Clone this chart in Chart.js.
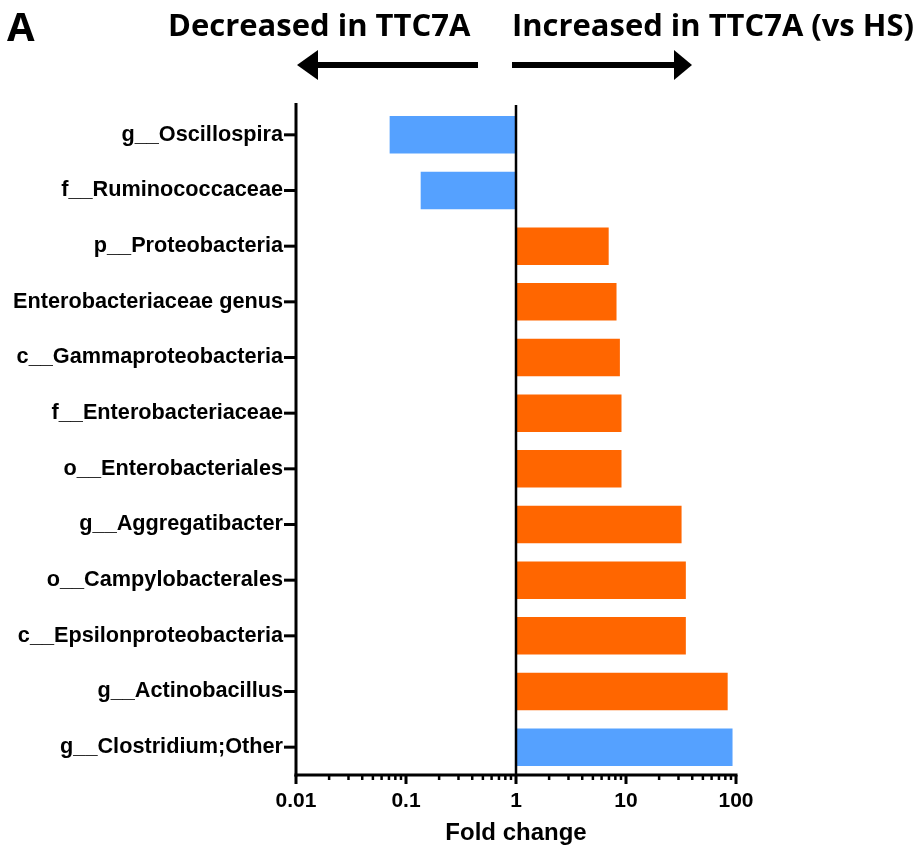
<!DOCTYPE html>
<html>
<head>
<meta charset="utf-8">
<script src="https://cdn.jsdelivr.net/npm/chart.js@4"></script>
<style>
  html, body { margin: 0; padding: 0; background: #fff; }
  #wrap { width: 921px; height: 851px; }
</style>
</head>
<body>
<div id="wrap"><canvas id="chart" width="921" height="851"></canvas></div>
<script>
// taxa, top to bottom
const taxa = [
  'g__Oscillospira',
  'f__Ruminococcaceae',
  'p__Proteobacteria',
  'Enterobacteriaceae genus',
  'c__Gammaproteobacteria',
  'f__Enterobacteriaceae',
  'o__Enterobacteriales',
  'g__Aggregatibacter',
  'o__Campylobacterales',
  'c__Epsilonproteobacteria',
  'g__Actinobacillus',
  'g__Clostridium;Other'
];
// fold change (TTC7A vs HS), bars start at 1
const foldChange = [0.071, 0.136, 6.96, 8.2, 8.8, 9.1, 9.1, 32, 35, 35, 84, 93];
const barColour = ['#55a1ff', '#55a1ff', '#ff6600', '#ff6600', '#ff6600', '#ff6600',
                   '#ff6600', '#ff6600', '#ff6600', '#ff6600', '#ff6600', '#55a1ff'];
const xTickLabels = ['0.01', '0.1', '1', '10', '100'];

const ctx = document.getElementById('chart').getContext('2d');

// axes, tick marks, headings and arrows drawn by hand
const extras = {
  id: 'extras',
  afterDraw(chart) {
    const c = chart.ctx;
    const x = chart.scales.x, y = chart.scales.y;
    const area = chart.chartArea;
    c.save();
    c.strokeStyle = '#000';
    c.fillStyle = '#000';
    c.lineCap = 'butt';

    // y axis line
    c.lineWidth = 3;
    c.beginPath();
    c.moveTo(area.left, 103);
    c.lineTo(area.left, area.bottom + 1.5);
    c.stroke();
    // x axis line
    c.beginPath();
    c.moveTo(area.left - 1.5, area.bottom);
    c.lineTo(x.getPixelForValue(100) + 1.5, area.bottom);
    c.stroke();
    // line at fold change 1
    c.lineWidth = 2.5;
    const x1 = x.getPixelForValue(1);
    c.beginPath();
    c.moveTo(x1, 105);
    c.lineTo(x1, area.bottom);
    c.stroke();

    // y tick marks
    c.lineWidth = 3;
    taxa.forEach((t, i) => {
      const py = y.getPixelForValue(i);
      c.beginPath();
      c.moveTo(area.left - 12, py);
      c.lineTo(area.left, py);
      c.stroke();
    });

    // x tick marks, major at decades, minor between
    for (let d = -2; d <= 2; d++) {
      for (let m = 1; m <= 9; m++) {
        const v = m * Math.pow(10, d);
        if (v > 100) break;
        const px = x.getPixelForValue(v);
        c.lineWidth = m === 1 ? 3 : 2.5;
        c.beginPath();
        c.moveTo(px, area.bottom);
        c.lineTo(px, area.bottom + (m === 1 ? 9 : 5));
        c.stroke();
      }
    }

    // headings
    c.textBaseline = 'alphabetic';
    c.textAlign = 'left';
    c.font = 'bold 40px "Open Sans"';
    c.fillText('A', 7, 41, 31);
    c.font = 'bold 31px "Open Sans"';
    c.fillText('Decreased in TTC7A', 168, 36, 304);
    c.fillText('Increased in TTC7A (vs HS)', 512, 36, 402);

    // arrows
    c.lineWidth = 6;
    c.beginPath();
    c.moveTo(478, 65);
    c.lineTo(312, 65);
    c.stroke();
    c.beginPath();
    c.moveTo(297, 65);
    c.lineTo(318, 50);
    c.lineTo(318, 80);
    c.closePath();
    c.fill();
    c.beginPath();
    c.moveTo(512, 65);
    c.lineTo(680, 65);
    c.stroke();
    c.beginPath();
    c.moveTo(692, 65);
    c.lineTo(674, 50);
    c.lineTo(674, 80);
    c.closePath();
    c.fill();
    c.restore();
  }
};

new Chart(ctx, {
  type: 'bar',
  data: {
    labels: taxa,
    datasets: [{
      data: foldChange.map(v => [1, v]),
      backgroundColor: barColour,
      borderWidth: 0,
      barPercentage: 0.675,
      categoryPercentage: 1
    }]
  },
  options: {
    indexAxis: 'y',
    responsive: false,
    animation: false,
    layout: { padding: { left: 0, right: 185, top: 107, bottom: 0 } },
    plugins: {
      legend: { display: false },
      tooltip: { enabled: false }
    },
    scales: {
      x: {
        type: 'logarithmic',
        min: 0.01,
        max: 100,
        grid: { display: false, drawTicks: false },
        border: { display: false },
        afterFit(scale) { scale.height = 76; },
        ticks: {
          autoSkip: false,
          maxRotation: 0,
          padding: 14,
          color: '#000',
          font: { family: '"Liberation Sans", Arial, sans-serif', size: 21, weight: 'bold' },
          callback(value) {
            const s = String(Number(value));
            return xTickLabels.includes(s) ? s : '';
          }
        },
        title: {
          display: true,
          text: 'Fold change',
          color: '#000',
          font: { family: '"Liberation Sans", Arial, sans-serif', size: 24, weight: 'bold' },
          padding: { top: 0, bottom: 3 }
        }
      },
      y: {
        grid: { display: false, drawTicks: false },
        border: { display: false },
        afterFit(scale) { scale.width = 296; },
        ticks: {
          padding: 13,
          color: '#000',
          font: { family: '"Liberation Sans", Arial, sans-serif', size: 21.7, weight: 'bold' }
        }
      }
    }
  },
  plugins: [extras]
});
</script>
</body>
</html>
